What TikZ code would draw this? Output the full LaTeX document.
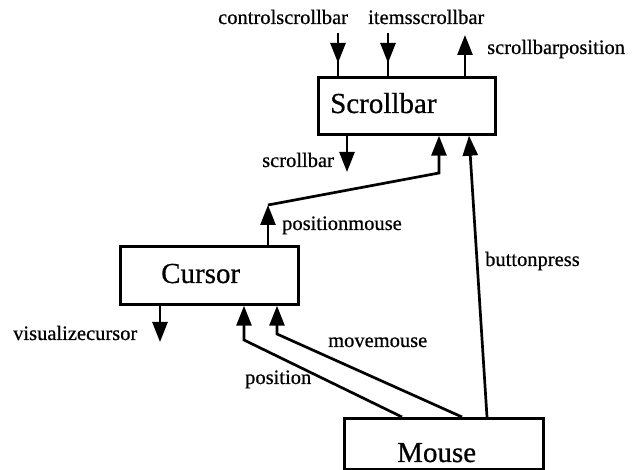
\documentclass[tikz,border=0pt]{standalone}
\usepackage{fontspec}
\setmainfont{Liberation Serif}
\newfontfamily\heavyserif[FakeBold=0.6]{Liberation Serif}
\usetikzlibrary{arrows.meta}

\tikzset{
  box/.style={draw, line width=2.7pt, inner sep=0pt, anchor=north west},
  title/.style={inner sep=0pt, anchor=base west, font=\heavyserif\fontsize{29}{34}\selectfont},
  lab/.style={inner sep=0pt, anchor=base west, font=\heavyserif\fontsize{20.5}{24}\selectfont},
  wire/.style={line width=2.7pt},
  arr/.style={wire, -{Triangle[length=20pt,width=15pt]}},
}

\begin{document}
\begin{tikzpicture}[x=1pt, y=-1pt]
  \useasboundingbox (0,0) rectangle (633,470);

  % process boxes
  \node[box, minimum width=177pt, minimum height=57pt] (sb) at (317,76) {};
  \node[box, minimum width=178pt, minimum height=58pt] (cur) at (119,245) {};
  \node[box, minimum width=199pt, minimum height=51pt] (mouse) at (343,417) {};

  \node[title] (sbt) at (330,113) {Scrollbar};
  \node[title] (curt) at (161,283) {Cursor};
  \node[title] (mouset) at (397,462) {Mouse};

  % free ends of the outer signals
  \coordinate (ctl) at (338,33);
  \coordinate (items) at (388,33);
  \coordinate (sbpos) at (465,35);
  \coordinate (sbout) at (347,172);
  \coordinate (viscur) at (160,342);

  % bends
  \coordinate (pm1) at (268,205);
  \coordinate (pm2) at (439,173);
  \coordinate (pos1) at (244,340);
  \coordinate (mm1) at (277,334);

  % inputs of Scrollbar
  \draw[wire] (ctl) -- (ctl |- sb.north);
  \draw[arr, shorten >=13pt] (ctl) -- (ctl |- sb.north);
  \draw[wire] (items) -- (items |- sb.north);
  \draw[arr, shorten >=13pt] (items) -- (items |- sb.north);

  % outputs of Scrollbar
  \draw[arr] (sbpos |- sb.north) -- (sbpos);
  \draw[arr] (sbout |- sb.south) -- (sbout);

  % Cursor -> Scrollbar
  \draw[arr] (pm1 |- cur.north) -- (pm1);
  \draw[arr] (pm1) -- (pm2) -- (pm2 |- sb.south);

  % Mouse -> Scrollbar
  \draw[arr] ([xshift=144pt]mouse.north west) -- ([xshift=152pt]sb.south west);

  % Mouse -> Cursor
  \draw[arr] ([xshift=59pt]mouse.north west) -- (pos1) -- (pos1 |- cur.south);
  \draw[arr] ([xshift=119pt]mouse.north west) -- (mm1) -- (mm1 |- cur.south);

  % output of Cursor
  \draw[arr] (viscur |- cur.south) -- (viscur);

  % signal names
  \node[lab] (lctl) at (218,24) {controlscrollbar};
  \node[lab] (litems) at (368,24) {itemsscrollbar};
  \node[lab] (lsbpos) at (487,54) {scrollbarposition};
  \node[lab] (lsbout) at (262,167) {scrollbar};
  \node[lab] (lpm) at (282,230) {positionmouse};
  \node[lab] (lbp) at (485,266) {buttonpress};
  \node[lab] (lvis) at (13,340) {visualizecursor};
  \node[lab] (lmm) at (328,347) {movemouse};
  \node[lab] (lpos) at (245,384) {position};
\end{tikzpicture}
\end{document}
